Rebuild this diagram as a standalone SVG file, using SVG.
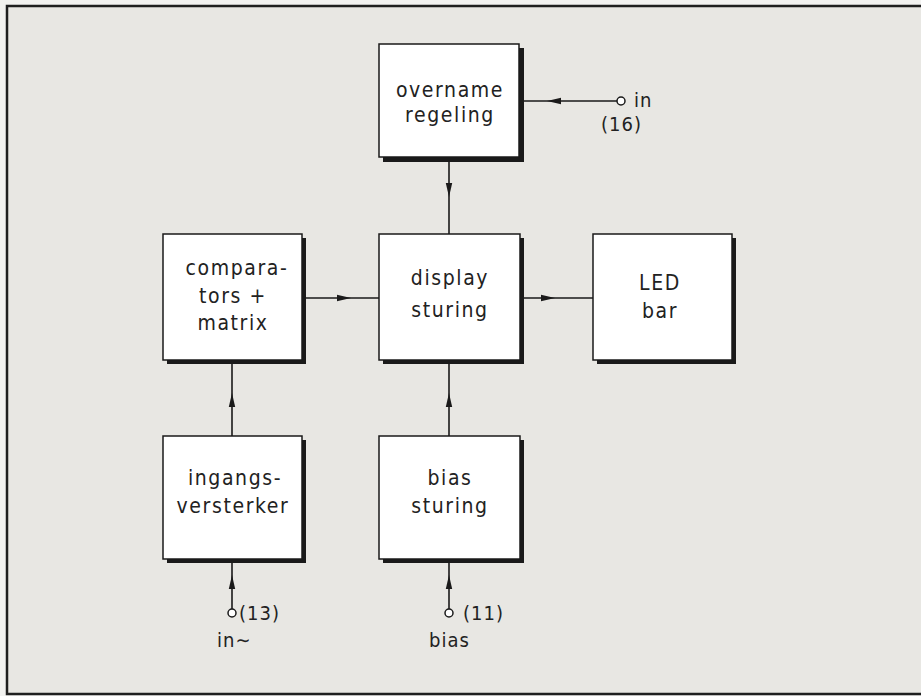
<svg xmlns="http://www.w3.org/2000/svg" width="921" height="696" viewBox="0 0 921 696">
<defs>
<style>
.sh{fill:#1a1a1a}
.bx{fill:#ffffff;stroke:#1a1a1a;stroke-width:1.5}
.t{font-family:"DejaVu Sans Condensed","DejaVu Sans","Liberation Sans",sans-serif;font-size:21px;fill:#222;text-anchor:middle;letter-spacing:1.6px}
.l{font-family:"DejaVu Sans Condensed","DejaVu Sans","Liberation Sans",sans-serif;font-size:20px;fill:#222;letter-spacing:1px}
.c{fill:none;stroke:#1a1a1a;stroke-width:1.6}
.p{fill:#fff;stroke:#1a1a1a;stroke-width:1.5}
</style>
<marker id="ah" viewBox="0 0 14 8" refX="14" refY="4" markerWidth="14" markerHeight="8" markerUnits="userSpaceOnUse" orient="auto">
<path d="M0,0.8 L14,4 L0,7.2 Z" fill="#1a1a1a"/>
</marker>
</defs>
<rect x="0" y="0" width="921" height="696" fill="#f2f2f0"/>
<rect x="7" y="6" width="1000" height="688" fill="#e8e7e3" stroke="#1f1f1f" stroke-width="2.5"/>

<g id="connectors">
<path class="c" d="M617,101 L547,101 L519,101" marker-mid="url(#ah)"/>
<path class="c" d="M449,157 L449,197 L449,234" marker-mid="url(#ah)"/>
<path class="c" d="M302,298 L351,298 L379,298" marker-mid="url(#ah)"/>
<path class="c" d="M520,298 L555,298 L593,298" marker-mid="url(#ah)"/>
<path class="c" d="M232,436 L232,393 L232,360" marker-mid="url(#ah)"/>
<path class="c" d="M449,436 L449,393 L449,360" marker-mid="url(#ah)"/>
<path class="c" d="M232,609 L232,575 L232,559" marker-mid="url(#ah)"/>
<path class="c" d="M449,609 L449,575 L449,559" marker-mid="url(#ah)"/>
<circle class="p" cx="621" cy="101" r="4"/>
<circle class="p" cx="232" cy="613" r="4"/>
<circle class="p" cx="449" cy="613" r="4"/>
<text class="l" x="634" y="107">in</text>
<text class="l" x="601" y="131">(16)</text>
<text class="l" x="239" y="620">(13)</text>
<text class="l" x="217" y="647">in∼</text>
<text class="l" x="463" y="620">(11)</text>
<text class="l" x="429" y="647">bias</text>
</g>

<g id="overname">
<rect class="sh" x="383" y="48" width="141" height="114"/>
<rect class="bx" x="379" y="44" width="140" height="113"/>
<text class="t" x="450" y="97">overname</text>
<text class="t" x="450" y="122">regeling</text>
</g>

<g id="comparators">
<rect class="sh" x="167" y="238" width="139" height="126"/>
<rect class="bx" x="163" y="234" width="139" height="126"/>
<text class="t" x="237" y="275">compara-</text>
<text class="t" x="233" y="303">tors +</text>
<text class="t" x="233" y="330">matrix</text>
</g>

<g id="display">
<rect class="sh" x="383" y="238" width="141" height="126"/>
<rect class="bx" x="379" y="234" width="141" height="126"/>
<text class="t" x="450" y="285">display</text>
<text class="t" x="450" y="317">sturing</text>
</g>

<g id="led">
<rect class="sh" x="597" y="238" width="139" height="126"/>
<rect class="bx" x="593" y="234" width="139" height="126"/>
<text class="t" x="660" y="290">LED</text>
<text class="t" x="660" y="318">bar</text>
</g>

<g id="ingangs">
<rect class="sh" x="167" y="440" width="139" height="123"/>
<rect class="bx" x="163" y="436" width="139" height="123"/>
<text class="t" x="235" y="485">ingangs-</text>
<text class="t" x="233" y="513">versterker</text>
</g>

<g id="bias">
<rect class="sh" x="383" y="440" width="141" height="123"/>
<rect class="bx" x="379" y="436" width="141" height="123"/>
<text class="t" x="450" y="485">bias</text>
<text class="t" x="450" y="513">sturing</text>
</g>
</svg>
